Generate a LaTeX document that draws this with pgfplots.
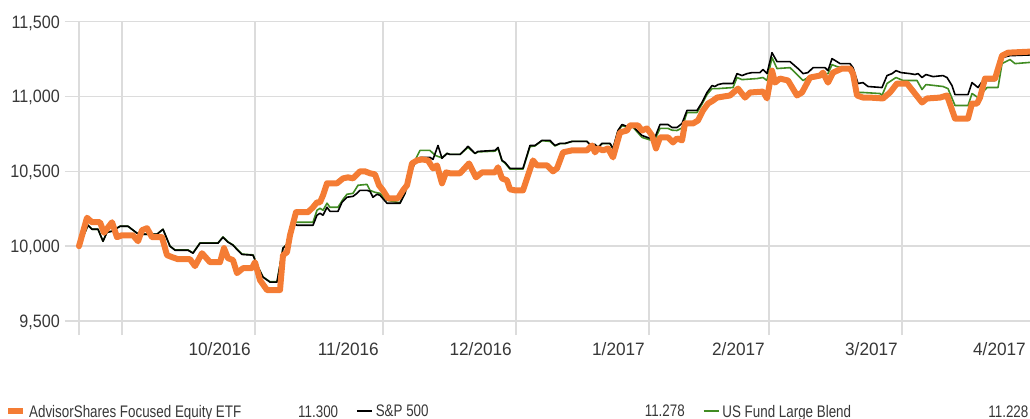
\documentclass[border=0pt]{standalone}
\usepackage{pgfplots}
\pgfplotsset{compat=1.18}
\usepackage{fontspec}
\setmainfont{Liberation Sans}
\newfontfamily\tickfont[FakeStretch=0.9]{Liberation Sans}
\newfontfamily\xtickfont[FakeStretch=0.96]{Liberation Sans}
\newfontfamily\legfont[FakeStretch=0.8]{Liberation Sans}
\definecolor{advorange}{RGB}{244,124,52}
\definecolor{sgreen}{RGB}{65,140,35}
\definecolor{gridgray}{RGB}{220,220,220}
\definecolor{txt}{RGB}{55,55,55}
\begin{document}
\begin{tikzpicture}
\useasboundingbox (-65bp,-84bp) rectangle (965bp,335bp);
\begin{axis}[
  at={(0bp,0bp)}, anchor=south west,
  scale only axis, width=965bp, height=313.3bp,
  xmin=65, xmax=1030, ymin=9406.5, ymax=11500,
  scaled y ticks=false, scaled x ticks=false,
  axis line style={draw=none}, tick style={draw=none},
  xtick={79,122,255,383,516,649,769,902},
  xticklabels={,,10/2016,11/2016,12/2016,1/2017,2/2017,3/2017},
  extra x ticks={1030}, extra x tick labels={4/2017},
  extra x tick style={grid=none},
  ytick={9500,10000,10500,11000,11500},
  yticklabels={{9,500},{10,000},{10,500},{11,000},{11,500}},
  grid=major, major grid style={gridgray, line width=1.6bp},
  xticklabel style={font=\xtickfont\fontsize{18}{18}\selectfont, text=txt, anchor=north east, inner sep=0pt, xshift=-4bp, yshift=-7bp},
  yticklabel style={font=\tickfont\fontsize{18}{18}\selectfont, text=txt, anchor=base east, inner sep=0pt, xshift=-5bp, yshift=-6.4bp},
  reverse legend,
  legend columns=3,
  legend image code/.code={\draw[#1, line cap=butt] (0bp,0bp) -- (15bp,0bp);},
  legend style={at={(-0.0622,-0.2426)}, anchor=west, draw=none, fill=none,
    inner xsep=0pt, inner ysep=0pt, cells={anchor=west},
    nodes={inner sep=0pt, text depth=0pt},
    font=\legfont\fontsize{16.8}{16.8}\selectfont, text=txt,
    /tikz/every odd column/.append style={column sep=3bp},
    /tikz/every even column/.append style={column sep=18bp}},
]
% US Fund Large Blend
\addplot[sgreen, line width=1.6bp, line join=round] coordinates {
(79,10000)(88,10140)(92,10113)(98,10113)(103,10033)(107,10093)(112,10100)(120,10133)(128,10133)(137,10087)(142,10080)(157,10080)(163,10113)(170,10000)(175,9975)(188,9975)(193,9955)(200,10022)(205,10022)(218,10022)(223,10062)(228,10029)(233,10009)(236,9987)(242,9947)(253,9942)(258,9862)(263,9795)(270,9762)(277,9762)(283,9987)(288,10020)
(293,10160)(297,10160)(313,10160)(317,10240)(320,10253)(323,10240)(327,10287)(330,10260)(338,10260)(343,10313)(347,10347)(353,10353)(358,10407)(367,10413)(370,10373)(375,10360)(380,10353)(387,10307)(400,10290)(405,10355)(410,10507)(415,10573)(420,10640)(430,10640)(435,10607)(442,10590)(447,10620)(450,10613)(460,10613)(468,10660)(475,10620)(478,10630)(495,10635)(498,10655)(502,10570)(505,10555)(510,10515)(523,10515)(530,10665)(535,10670)(542,10705)(550,10700)(555,10670)(560,10685)(565,10685)(572,10700)(587,10700)(590,10680)(595,10678)(598,10660)(602,10685)(610,10685)(613,10650)(618,10770)(622,10805)(627,10795)(633,10795)(642,10727)(650,10710)(655,10715)(660,10787)(668,10787)(672,10775)(677,10773)(682,10790)(687,10893)(697,10893)(702,10950)(707,11013)(712,11053)(718,11053)(733,11060)(737,11127)(742,11113)(757,11120)(763,11127)(767,11107)(772,11260)(777,11187)(790,11193)(798,11140)(803,11107)(808,11127)(820,11153)(825,11153)(828,11153)(832,11213)(837,11200)(843,11193)(853,11187)(858,11027)(863,11027)(880,11020)(882,11007)(887,11087)(896,11127)(903,11107)(917,11107)(922,11047)(926,11080)(943,11067)(948,11053)(955,10940)(968,10940)(972,11020)(978,10993)(987,11060)(998,11060)(1002,11220)(1010,11247)(1015,11220)(1030,11228)
};
\addlegendentry{\makebox[306bp][l]{US Fund Large Blend\hfill 11.228}}
% S&P 500
\addplot[black, line width=1.6bp, line join=round] coordinates {
(79,10000)(88,10140)(92,10113)(98,10113)(103,10033)(107,10093)(112,10100)(120,10133)(128,10133)(137,10087)(142,10080)(157,10080)(163,10113)(170,10000)(175,9973)(188,9973)(193,9953)(200,10020)(205,10020)(218,10020)(223,10060)(228,10027)(233,10007)(236,9985)(242,9945)(253,9940)(258,9860)(263,9793)(270,9760)(277,9760)(283,9987)(288,10020)(293,10153)(297,10140)(313,10140)(317,10207)(320,10220)(323,10207)(327,10260)(330,10233)(338,10233)(342,10293)(347,10327)(353,10333)(357,10353)(360,10373)(367,10373)(370,10367)(373,10327)(377,10347)(380,10340)(387,10287)(400,10287)(405,10353)(410,10473)(415,10560)(420,10593)(430,10593)(433,10580)(438,10673)(442,10587)(447,10620)(450,10613)(460,10613)(468,10667)(475,10620)(478,10633)(495,10640)(498,10660)(502,10573)(505,10560)(510,10520)(523,10520)(530,10673)(535,10673)(542,10707)(550,10707)(555,10673)(560,10687)(565,10687)(572,10700)(587,10700)(590,10680)(595,10680)(598,10660)(602,10687)(610,10687)(613,10653)(618,10773)(622,10813)(627,10800)(633,10800)(642,10740)(650,10720)(655,10727)(660,10813)(668,10813)(672,10793)(677,10793)(682,10820)(687,10907)(697,10907)(702,10960)(707,11027)(712,11073)(715,11067)(718,11080)(723,11087)(733,11087)(737,11153)(742,11140)(747,11153)(752,11160)(760,11160)(763,11180)(767,11153)(772,11293)(777,11233)(790,11233)(798,11187)(803,11153)(808,11160)(813,11193)(820,11193)(825,11193)(828,11173)(832,11253)(837,11233)(840,11220)(850,11220)(853,11193)(858,11087)(863,11093)(868,11067)(882,11060)(887,11140)(892,11153)(896,11173)(901,11160)(910,11153)(915,11147)(918,11153)(922,11127)(926,11147)(933,11133)(943,11140)(947,11127)(952,11073)(955,11013)(968,11013)(972,11093)(978,11060)(985,11127)(988,11107)(995,11107)(1002,11260)(1010,11273)(1030,11278)
};
\addlegendentry{\makebox[309bp][l]{S\&P 500\hfill 11.278}}
% AdvisorShares Focused Equity ETF
\addplot[advorange, line width=6bp, line join=round, line cap=round] coordinates {
(79,10000)(87,10190)(92,10160)(100,10160)(104,10090)(112,10160)(117,10060)(122,10073)(133,10073)(138,10033)(142,10107)(147,10120)(152,10060)(162,10060)(167,9940)(172,9927)(178,9913)(190,9913)(195,9867)(202,9953)(210,9893)(220,9893)(224,9987)(228,9920)(233,9907)(237,9820)(243,9853)(252,9853)(255,9893)(260,9773)(267,9707)(280,9707)(283,9940)(287,9960)(290,10073)(296,10227)(308,10227)(313,10260)(317,10293)(320,10293)(323,10340)(327,10420)(337,10420)(343,10453)(348,10460)(353,10453)(360,10500)(365,10500)(370,10487)(375,10480)(379,10407)(383,10373)(388,10320)(398,10320)(403,10373)(407,10407)(412,10553)(417,10573)(422,10580)(428,10573)(433,10520)(437,10540)(442,10420)(446,10493)(450,10487)(460,10487)(469,10553)(476,10460)(482,10493)(495,10493)(498,10527)(502,10453)(507,10440)(510,10380)(515,10373)(523,10373)(528,10473)(533,10573)(537,10540)(547,10540)(553,10500)(557,10520)(563,10627)(572,10640)(587,10640)(592,10673)(595,10627)(598,10653)(603,10640)(608,10653)(613,10593)(620,10760)(627,10773)(630,10807)(638,10807)(642,10773)(647,10787)(652,10740)(656,10653)(660,10727)(668,10727)(673,10693)(677,10720)(682,10707)(685,10820)(693,10820)(698,10840)(703,10907)(708,10953)(713,10973)(717,10993)(730,11007)(738,11053)(745,10993)(750,11027)(763,11033)(767,10987)(772,11173)(775,11093)(780,11120)(788,11107)(797,11007)(802,11027)(810,11127)(820,11140)(823,11160)(828,11093)(833,11160)(842,11187)(850,11187)(853,11153)(857,11007)(863,10993)(870,10993)(883,10987)(890,11027)(897,11087)(907,11087)(922,10960)(927,10987)(940,10993)(947,11007)(955,10853)(968,10853)(972,10953)(977,10953)(980,10993)(985,11120)(995,11120)(1002,11273)(1008,11293)(1030,11300)
};
\addlegendentry{\makebox[309bp][l]{AdvisorShares Focused Equity ETF\hfill 11.300}}
\end{axis}
\end{tikzpicture}
\end{document}
